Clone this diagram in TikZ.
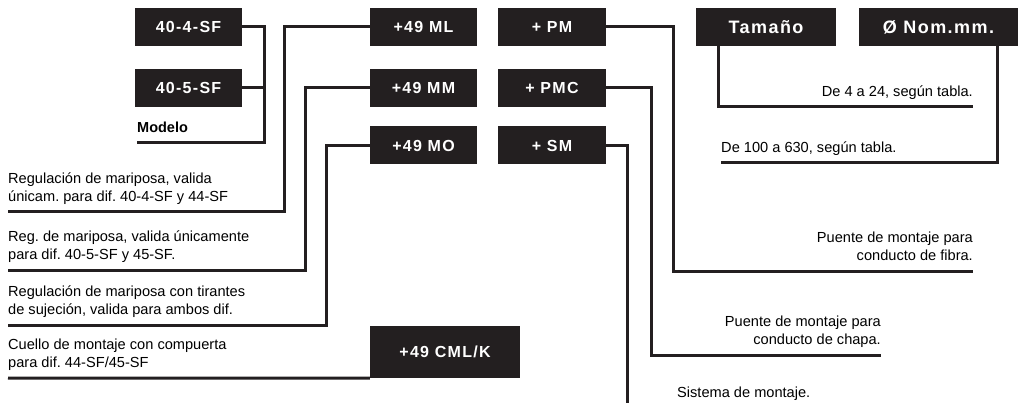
\documentclass[tikz,border=0pt]{standalone}
\usepackage{fontspec}
\setmainfont{Liberation Sans}
\newfontfamily\boxfont[LetterSpace=8]{Liberation Sans}
\usetikzlibrary{positioning}
\definecolor{boxblack}{HTML}{231F20}
\frenchspacing
\tikzset{
  mbox/.style={fill=boxblack,text=white,font=\boxfont\bfseries\fontsize{16}{18}\selectfont,
    minimum height=38,minimum width=107,inner sep=0},
  bigbox/.style={mbox,font=\boxfont\bfseries\fontsize{18}{20}\selectfont},
  wire/.style={line width=3,boxblack},
  lbl/.style={font=\fontsize{14.6}{18}\selectfont,inner sep=0,align=left},
  rlbl/.style={lbl,align=right}
}
\begin{document}
\begin{tikzpicture}[x=1pt,y=-1pt]
        \useasboundingbox (0,0) rectangle (1019,403);
        \node[mbox] (m404) at (188.5,27) {40-4-SF};
        \node[mbox] (m405) at (188.5,88) {40-5-SF};
        \node[mbox] (ml) at (423.5,27) {+49 ML};
        \node[mbox] (mm) at (423.5,88) {+49 MM};
        \node[mbox] (mo) at (423.5,145.5) {+49 MO};
        \node[mbox,minimum width=150,minimum height=52] (cml) at (445,352) {+49 CML/K};
        \node[mbox,minimum width=108] (pm) at (552,27) {+ PM};
        \node[mbox,minimum width=108] (pmc) at (552,88) {+ PMC};
        \node[mbox,minimum width=108] (sm) at (552,145.5) {+ SM};
        \node[bigbox,minimum width=140] (tam) at (766,27) {Tamaño};
        \node[bigbox,minimum width=159] (nom) at (938.5,27) {Ø Nom.mm.};
        \coordinate (modend) at (137,143);
        \coordinate (mlend) at (8,212);
        \coordinate (mmend) at (8,270);
        \coordinate (moend) at (8,325);
        \coordinate (cmlend) at (8,378);
        \coordinate (pmend) at (973,271);
        \coordinate (pmcend) at (881,355);
        \coordinate (smend) at (627,404);
        \coordinate (tamend) at (973,107);
        \coordinate (nomend) at (721,163);
        \draw[wire](m404.east)--++(22,0)|-(modend);
        \draw[wire](m405.east)--++(22,0);
        \draw[wire](ml.west)--++(-85,0)|-(mlend);
        \draw[wire](mm.west)--++(-64,0)|-(mmend);
        \draw[wire](mo.west)--++(-43,0)|-(moend);
        \draw[wire](cml.south west)--(cmlend);
        \draw[wire](pm.east)--++(67,0)|-(pmend);
        \draw[wire](pmc.east)--++(45,0)|-(pmcend);
        \draw[wire](sm.east)--++(21,0)coordinate(smk)--(smk|-smend);
        \draw[wire]([xshift=23]tam.south west)|-(tamend);
        \draw[wire]([xshift=-21]nom.south east)|-(nomend);
        \node[font=\bfseries\fontsize{14.5}{18}\selectfont,inner sep=0,above right=10pt and 0pt of modend](modtxt){Modelo};
        \node[lbl,above right=7pt and 0pt of mlend](mltxt){Regulación de mariposa, valida\\únicam. para dif. 40-4-SF y 44-SF};
        \node[lbl,above right=7pt and 0pt of mmend](mmtxt){Reg. de mariposa, valida únicamente\\para dif. 40-5-SF y 45-SF.};
        \node[lbl,above right=7pt and 0pt of moend](motxt){Regulación de mariposa con tirantes\\de sujeción, valida para ambos dif.};
        \node[lbl,above right=7pt and 0pt of cmlend](cmltxt){Cuello de montaje con compuerta\\para dif. 44-SF/45-SF};
        \node[rlbl,above left=10pt and 0pt of pmend](pmtxt){Puente de montaje para\\conducto de fibra.};
        \node[rlbl,above left=7pt and 0pt of pmcend](pmctxt){Puente de montaje para\\conducto de chapa.};
        \node[lbl,anchor=base west](smtxt) at (677,397){Sistema de montaje.};
        \node[rlbl,above left=7pt and 0pt of tamend](tamtxt){De 4 a 24, según tabla.};
        \node[lbl,above right=7pt and 0pt of nomend](nomtxt){De 100 a 630, según tabla.};
\end{tikzpicture}
\end{document}
